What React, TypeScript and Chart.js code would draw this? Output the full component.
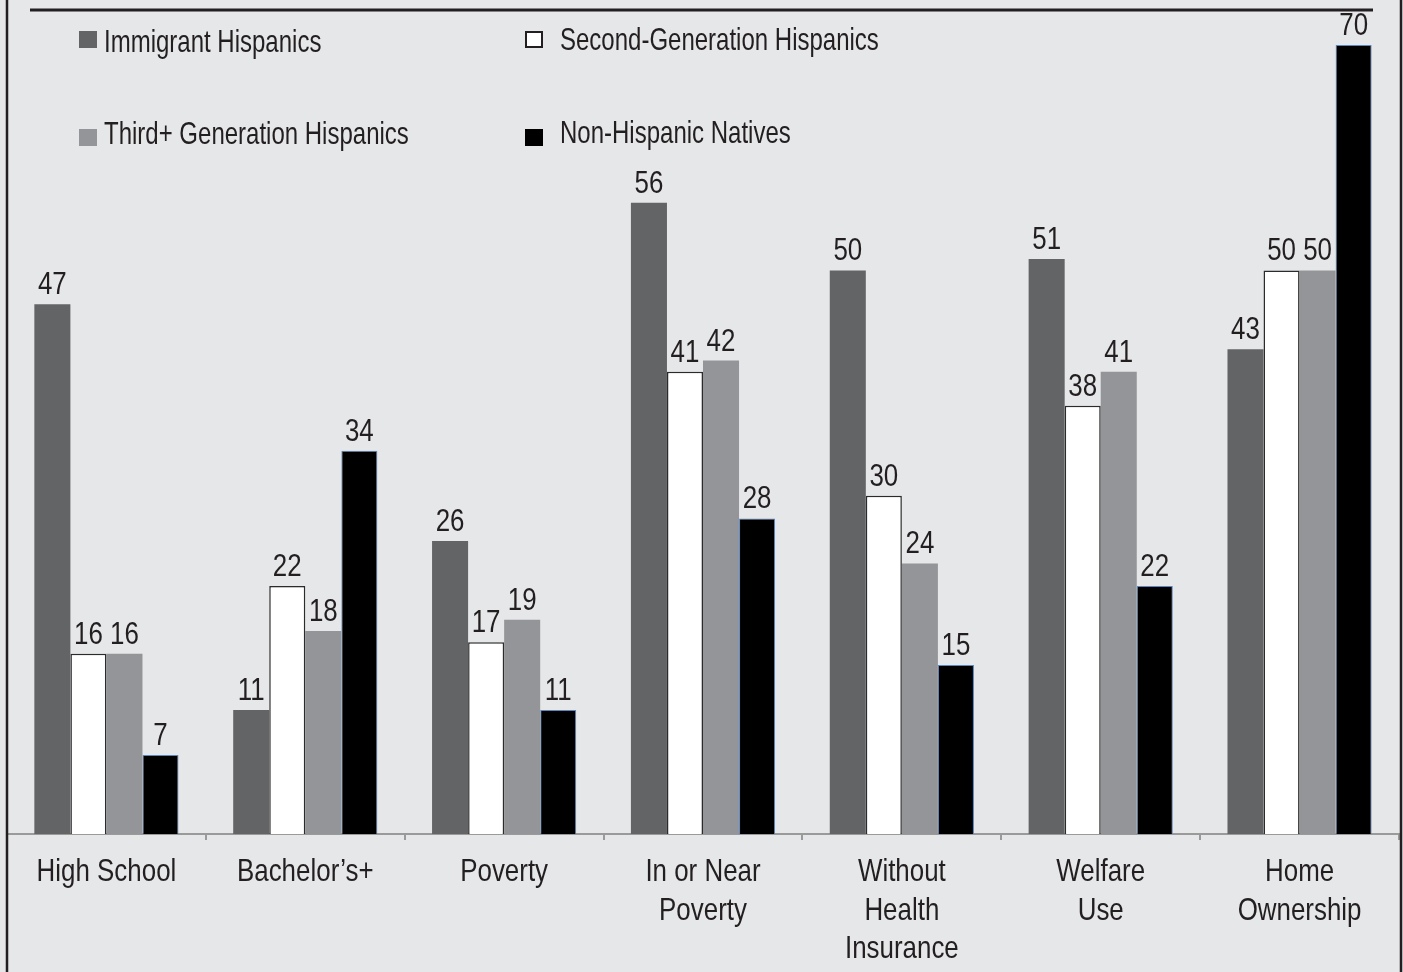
import React, { useEffect, useRef } from 'react';
import { Chart, registerables } from 'chart.js';

Chart.register(...registerables);

const categories: string[][] = [
  ['High School'],
  ['Bachelor\u2019s+'],
  ['Poverty'],
  ['In or Near', 'Poverty'],
  ['Without', 'Health', 'Insurance'],
  ['Welfare', 'Use'],
  ['Home', 'Ownership'],
];

const seriesNames = [
  'Immigrant Hispanics',
  'Second-Generation Hispanics',
  'Third+ Generation Hispanics',
  'Non-Hispanic Natives',
];

const immigrantHispanics = [47, 11, 26, 56, 50, 51, 43];
const secondGenHispanics = [16, 22, 17, 41, 30, 38, 50];
const thirdGenHispanics = [16, 18, 19, 42, 24, 41, 50];
const nonHispanicNatives = [7, 34, 11, 28, 15, 22, 70];

const FONT = '"Liberation Sans", Arial, Helvetica, sans-serif';
const TEXT = '#231f20';
const BG = '#e6e7e9';
const COLORS = ['#636466', '#ffffff', '#949598', '#000000'];

function narrowText(ctx: CanvasRenderingContext2D, text: string, x: number, y: number, sx: number) {
  ctx.save();
  ctx.translate(x, y);
  ctx.scale(sx, 1);
  ctx.fillText(text, 0, 0);
  ctx.restore();
}

const bgPlugin = {
  id: 'bg',
  beforeDraw(chart: any) {
    const { ctx, width, height } = chart;
    ctx.save();
    ctx.fillStyle = BG;
    ctx.fillRect(0, 0, width, height);
    ctx.restore();
  },
};

const framePlugin = {
  id: 'frame',
  afterDraw(chart: any) {
    const { ctx, height, width } = chart;
    ctx.save();
    ctx.strokeStyle = TEXT;
    ctx.lineWidth = 3;
    ctx.beginPath();
    ctx.moveTo(30, 10);
    ctx.lineTo(1373, 10);
    ctx.stroke();
    ctx.lineWidth = 2.5;
    ctx.beginPath();
    ctx.moveTo(7, 0);
    ctx.lineTo(7, height);
    ctx.moveTo(width - 2, 0);
    ctx.lineTo(width - 2, height);
    ctx.stroke();
    ctx.restore();
  },
};

const xLabelPlugin = {
  id: 'xLabels',
  afterDraw(chart: any) {
    const { ctx } = chart;
    const scale = chart.scales.x;
    ctx.save();
    ctx.font = `32px ${FONT}`;
    ctx.fillStyle = TEXT;
    ctx.textAlign = 'center';
    ctx.textBaseline = 'alphabetic';
    categories.forEach((lines, i) => {
      const x = scale.getPixelForTick(i);
      lines.forEach((line, k) => {
        narrowText(ctx, line, x, 881 + k * 38.5, 0.81);
      });
    });
    ctx.restore();
  },
};

const valueLabelPlugin = {
  id: 'valueLabels',
  afterDatasetsDraw(chart: any) {
    const { ctx } = chart;
    ctx.save();
    ctx.font = `32px ${FONT}`;
    ctx.fillStyle = TEXT;
    ctx.textAlign = 'center';
    ctx.textBaseline = 'alphabetic';
    chart.data.datasets.forEach((ds: any, i: number) => {
      const meta = chart.getDatasetMeta(i);
      meta.data.forEach((el: any, j: number) => {
        narrowText(ctx, String(ds.data[j]), el.x, el.y - 10, 0.81);
      });
    });
    ctx.restore();
  },
};

const legendPlugin = {
  id: 'customLegend',
  afterDraw(chart: any) {
    const { ctx } = chart;
    const items = [
      { name: seriesNames[0], color: COLORS[0], sx: 79, sy: 31, tx: 104, ty: 52, outline: false },
      { name: seriesNames[1], color: COLORS[1], sx: 525, sy: 31, tx: 560, ty: 50, outline: true },
      { name: seriesNames[2], color: COLORS[2], sx: 79, sy: 129, tx: 104, ty: 144, outline: false },
      { name: seriesNames[3], color: COLORS[3], sx: 525, sy: 129, tx: 560, ty: 143, outline: false },
    ];
    ctx.save();
    ctx.font = `32px ${FONT}`;
    ctx.textAlign = 'left';
    ctx.textBaseline = 'alphabetic';
    items.forEach((it) => {
      ctx.fillStyle = it.color;
      ctx.fillRect(it.sx, it.sy, 18, 17);
      if (it.outline) {
        ctx.strokeStyle = TEXT;
        ctx.lineWidth = 2;
        ctx.strokeRect(it.sx + 1, it.sy + 1, 16, 15);
      }
      ctx.fillStyle = TEXT;
      narrowText(ctx, it.name, it.tx, it.ty, 0.75);
    });
    ctx.restore();
  },
};

export default function App() {
  const canvasRef = useRef<HTMLCanvasElement | null>(null);

  useEffect(() => {
    document.body.style.margin = '0';
    document.body.style.overflow = 'hidden';
    const canvas = canvasRef.current;
    if (!canvas) return;
    const chart = new Chart(canvas, {
      type: 'bar',
      data: {
        labels: categories.map((l) => l.join(' ')),
        datasets: [
          { label: seriesNames[0], data: immigrantHispanics, backgroundColor: COLORS[0], borderWidth: 0 },
          { label: seriesNames[1], data: secondGenHispanics, backgroundColor: COLORS[1], borderColor: '#2b2b2b', borderWidth: 1.5 },
          { label: seriesNames[2], data: thirdGenHispanics, backgroundColor: COLORS[2], borderWidth: 0 },
          { label: seriesNames[3], data: nonHispanicNatives, backgroundColor: COLORS[3], borderColor: '#5b87c0', borderWidth: 1 },
        ],
      },
      options: {
        responsive: false,
        animation: false,
        devicePixelRatio: 1,
        layout: { padding: { left: 7, right: 4, top: 10, bottom: 0 } },
        datasets: { bar: { categoryPercentage: 0.725, barPercentage: 1.0 } },
        plugins: {
          legend: { display: false },
          tooltip: { enabled: false },
          title: { display: false },
        },
        scales: {
          x: {
            offset: true,
            grid: {
              display: true,
              offset: true,
              drawOnChartArea: false,
              drawTicks: true,
              tickLength: 6,
              color: '#9a9a9a',
              lineWidth: 2,
            },
            border: { display: true, color: '#9a9a9a', width: 2 },
            ticks: {
              display: false,
            },
            afterFit(scale: any) {
              scale.height = 138;
            },
          },
          y: {
            display: false,
            min: 0,
            max: 73.1,
          },
        },
      },
      plugins: [bgPlugin, valueLabelPlugin, xLabelPlugin, legendPlugin, framePlugin],
    });
    return () => chart.destroy();
  }, []);

  return <canvas ref={canvasRef} width={1403} height={972} style={{ display: 'block' }} />;
}
